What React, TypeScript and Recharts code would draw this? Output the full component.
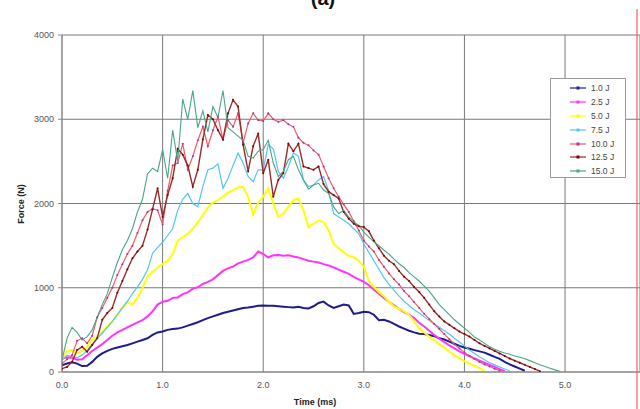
import React from "react";
import { LineChart, Line, XAxis, YAxis, CartesianGrid } from "recharts";

// time axis, ms (0.05 ms step)
const TIME = [
  0, 0.05, 0.1, 0.15, 0.2, 0.25, 0.3, 0.35, 0.4, 0.45,
  0.5, 0.55, 0.6, 0.65, 0.7, 0.75, 0.8, 0.85, 0.9, 0.95,
  1.0, 1.05, 1.1, 1.15, 1.2, 1.25, 1.3, 1.35, 1.4, 1.45,
  1.5, 1.55, 1.6, 1.65, 1.7, 1.75, 1.8, 1.85, 1.9, 1.95,
  2.0, 2.05, 2.1, 2.15, 2.2, 2.25, 2.3, 2.35, 2.4, 2.45,
  2.5, 2.55, 2.6, 2.65, 2.7, 2.75, 2.8, 2.85, 2.9, 2.95,
  3.0, 3.05, 3.1, 3.15, 3.2, 3.25, 3.3, 3.35, 3.4, 3.45,
  3.5, 3.55, 3.6, 3.65, 3.7, 3.75, 3.8, 3.85, 3.9, 3.95,
  4.0, 4.05, 4.1, 4.15, 4.2, 4.25, 4.3, 4.35, 4.4, 4.45,
  4.5, 4.55, 4.6, 4.65, 4.7, 4.75, 4.8, 4.85, 4.9, 4.95,
];

// force (N) per impact energy
const F_1_0 = [
  80, 100, 115, 100, 70, 75, 120, 180, 220, 250,
  275, 290, 305, 320, 340, 360, 380, 400, 440, 470,
  480, 500, 510, 515, 530, 550, 570, 590, 615, 640,
  660, 680, 700, 715, 730, 745, 760, 765, 775, 785,
  790, 785, 785, 780, 775, 770, 765, 775, 760, 755,
  780, 820, 835, 790, 760, 780, 800, 790, 690, 700,
  715, 710, 680, 615, 620, 600, 570, 540, 515, 490,
  470, 455, 450, 440, 425, 400, 385, 360, 335, 310,
  290, 275, 260, 245, 230, 205, 180, 155, 120, 90,
  65, 40, 15,
];
const F_2_5 = [
  160, 175, 170, 145, 150, 200, 250, 290, 330, 380,
  430, 470, 500, 530, 560, 590, 615, 660, 720, 800,
  835, 845, 880, 885, 925, 945, 990, 1005, 1045, 1070,
  1100, 1150, 1200, 1230, 1250, 1290, 1310, 1330, 1360, 1430,
  1400, 1360, 1385, 1390, 1380, 1385, 1370, 1360, 1340, 1320,
  1310, 1300, 1280, 1265, 1240, 1215, 1190, 1165, 1130, 1100,
  1070, 1030, 975, 930, 880, 830, 790, 750, 710, 680,
  640, 585, 540, 490, 440, 395, 355, 315, 280, 245,
  215, 190, 160, 135, 110, 85, 60, 35, 10,
];
const F_5_0 = [
  160, 250, 260, 220, 250, 300, 380, 420, 480, 540,
  600, 680, 760, 830, 800, 880, 1000, 1130, 1190, 1240,
  1280, 1320, 1400, 1560, 1600, 1640, 1700, 1780, 1860, 1950,
  2010, 2040, 2080, 2130, 2160, 2190, 2200, 2080, 1870, 2010,
  2080, 2180, 2000, 1840, 1880, 1960, 2040, 2060, 1920, 1720,
  1760, 1800, 1780, 1680, 1520, 1470, 1420, 1380, 1360, 1320,
  1250, 1080, 1010, 950, 900, 830, 780, 750, 720, 680,
  600, 520, 470, 420, 375, 330, 290, 240, 200, 165,
  130, 100, 75, 45, 15,
];
const F_7_5 = [
  140, 200, 180, 170, 200, 260, 330, 400, 460, 530,
  600, 680, 760, 840, 930, 1010, 1100, 1210, 1410, 1480,
  1540, 1620, 1700, 1920, 2050, 2120, 2000, 1960, 2200, 2400,
  2420, 2470, 2180, 2300, 2450, 2600, 2480, 2320, 2260, 2400,
  2400, 2700, 2650, 2380, 2300, 2440, 2600, 2560, 2280, 2200,
  2220, 2280, 2320, 2150, 1880, 1840, 1800, 1760, 1700, 1640,
  1520, 1420, 1320, 1220, 1120, 1040, 970, 900, 840, 790,
  740, 700, 655, 610, 570, 530, 490, 450, 400, 355,
  310, 260, 220, 180, 145, 110, 85, 60, 35, 15,
];
const F_10_0 = [
  100, 150, 200, 370, 400, 340, 430, 650, 760, 880,
  1000, 1150, 1280, 1400, 1500, 1650, 1800, 1900, 1940, 1920,
  1750, 2150, 2450, 2480, 2710, 2400, 2560, 2750, 2910, 2680,
  2870, 3030, 2760, 2990, 2910, 3070, 2720, 2950, 3070, 2990,
  2980, 3070, 3000, 2970, 2990, 2940, 2910, 2780, 2720, 2690,
  2630, 2580, 2440, 2300, 2180, 2080, 1990, 1900, 1790, 1680,
  1560, 1490, 1430, 1330, 1250, 1170, 1100, 1040, 960, 900,
  830, 760, 690, 630, 570, 510, 450, 390, 330, 280,
  230, 190, 155, 120, 90, 65, 40, 15,
];
const F_12_5 = [
  40, 60, 120, 260, 300, 240, 320, 400, 620, 700,
  760, 940, 1080, 1220, 1350, 1430, 1500, 1690, 1930, 2180,
  1840, 2100, 2300, 2650, 2580, 2450, 2200, 2400, 2760, 3050,
  3000, 2870, 2760, 3070, 3230, 3150, 2700, 2380, 2680, 2830,
  2360, 2520, 2080, 2280, 2360, 2710, 2620, 2710, 2440, 2420,
  2400, 2440, 2230, 2140, 2100, 2060, 1900, 1820, 1760, 1730,
  1720, 1670, 1560, 1470, 1380, 1320, 1280, 1200, 1130, 1080,
  1010, 950, 880, 800, 720, 660, 600, 560, 520, 480,
  450, 420, 380, 340, 310, 280, 250, 220, 190, 160,
  135, 110, 85, 60, 35, 10,
];
const F_15_0 = [
  140, 400, 530, 470, 380, 420, 500, 650, 800, 930,
  1120, 1300, 1450, 1560, 1700, 1900, 2050, 2350, 2420, 2380,
  2640, 2300, 2870, 2500, 3240, 3000, 3340, 2900, 3100, 2850,
  3150, 3020, 3340, 2900, 2850, 2800, 2750, 2560, 2540, 2620,
  2640, 2750, 2480, 2320, 2380, 2520, 2560, 2400, 2280, 2170,
  2220, 2240, 2160, 2120, 1960, 1880, 1920, 1840, 1780, 1740,
  1660, 1600, 1545, 1500, 1445, 1400, 1340, 1285, 1240, 1180,
  1130, 1080, 1020, 960, 880, 800, 740, 680, 620, 570,
  520, 470, 415, 380, 340, 300, 270, 245, 225, 210,
  190, 175, 158, 135, 110, 85, 65, 45, 25, 8,
];

const LABELS = ["1.0 J", "2.5 J", "5.0 J", "7.5 J", "10.0 J", "12.5 J", "15.0 J"];
const Y_TICKS = [0, 1000, 2000, 3000, 4000];
const X_TICKS = [0, 1, 2, 3, 4, 5];

const FONT = "Arial, 'Liberation Sans', sans-serif";

const series = [
  { key: "s1", data: F_1_0, color: "#1c1c8c", dot: "#1c1c8c", width: 2 },
  { key: "s2", data: F_2_5, color: "#ff33ff", dot: "#ff33ff", width: 2 },
  { key: "s3", data: F_5_0, color: "#ffff00", dot: "#ffff00", width: 2 },
  { key: "s4", data: F_7_5, color: "#55c4f5", dot: "#55c4f5", width: 1.2 },
  { key: "s5", data: F_10_0, color: "#f25a6a", dot: "#9a3a9a", width: 1.2 },
  { key: "s6", data: F_12_5, color: "#9b2a2a", dot: "#7a0000", width: 1.4 },
  { key: "s7", data: F_15_0, color: "#4aa586", dot: "#4aa586", width: 1.1 },
];

const rows = TIME.map((t, i) => {
  const r: any = { t };
  series.forEach((s) => {
    r[s.key] = s.data[i] ?? null;
  });
  return r;
});

function LegendBox() {
  return (
    <div
      style={{
        position: "absolute",
        left: 550,
        top: 78,
        width: 76,
        height: 100,
        border: "1px solid #9a9a9a",
        background: "#fff",
        boxSizing: "border-box",
        paddingTop: 2,
        fontFamily: FONT,
        fontSize: 8.5,
        color: "#444",
      }}
    >
      {series.map((s, i) => (
        <div key={s.key} style={{ display: "flex", alignItems: "center", height: 13.9 }}>
          <svg width={40} height={8} style={{ display: "block" }}>
            <line x1={19} y1={4} x2={35} y2={4} stroke={s.color} strokeWidth={1.2} />
            <rect x={25.5} y={2.5} width={3} height={3} fill={s.dot} />
          </svg>
          <span>{LABELS[i]}</span>
        </div>
      ))}
    </div>
  );
}

export default function App() {
  return (
    <div style={{ position: "absolute", left: 0, top: 0, width: 640, height: 409, background: "#fff", overflow: "hidden" }}>
      <LineChart
        width={640}
        height={409}
        data={rows}
        margin={{ top: 35, right: 0, bottom: 7, left: 0 }}
      >
        <CartesianGrid stroke="#7a7a7a" strokeWidth={1} />
        <XAxis
          type="number"
          dataKey="t"
          domain={[0, 5.745]}
          ticks={X_TICKS}
          allowDataOverflow
          tickFormatter={(v: number) => v.toFixed(1)}
          tickLine={false}
          tickMargin={4}
          height={30}
          axisLine={{ stroke: "#888" }}
          tick={{ fontSize: 9, fill: "#555", fontFamily: FONT }}
        />
        <YAxis
          type="number"
          domain={[0, 4000]}
          ticks={Y_TICKS}
          width={62}
          tickSize={4}
          tickMargin={4}
          axisLine={{ stroke: "#888" }}
          tickLine={{ stroke: "#888" }}
          tick={{ fontSize: 9, fill: "#555", fontFamily: FONT }}
        />
        {series.map((s, i) => (
          <Line
            key={s.key}
            type="linear"
            dataKey={s.key}
            name={LABELS[i]}
            stroke={s.color}
            strokeWidth={s.width}
            dot={i === 4 || i === 5 ? { r: 1, fill: s.dot, stroke: "none" } : false}
            isAnimationActive={false}
            connectNulls={false}
          />
        ))}
      </LineChart>
      <LegendBox />
      <svg
        width={640}
        height={409}
        style={{ position: "absolute", left: 0, top: 0, pointerEvents: "none" }}
      >
        <text x={323} y={5} textAnchor="middle" fontFamily={FONT} fontSize={20} fontWeight="bold" fill="#111">
          (a)
        </text>
        <text x={315} y={405} textAnchor="middle" fontFamily={FONT} fontSize={9} fontWeight="bold" fill="#222">
          Time (ms)
        </text>
        <text
          x={24}
          y={204}
          textAnchor="middle"
          fontFamily={FONT}
          fontSize={9}
          fontWeight="bold"
          fill="#222"
          transform="rotate(-90 24 204)"
        >
          Force (N)
        </text>
        <line x1={637} y1={9} x2={637} y2={409} stroke="#ff5a5a" strokeWidth={1.2} />
      </svg>
    </div>
  );
}
